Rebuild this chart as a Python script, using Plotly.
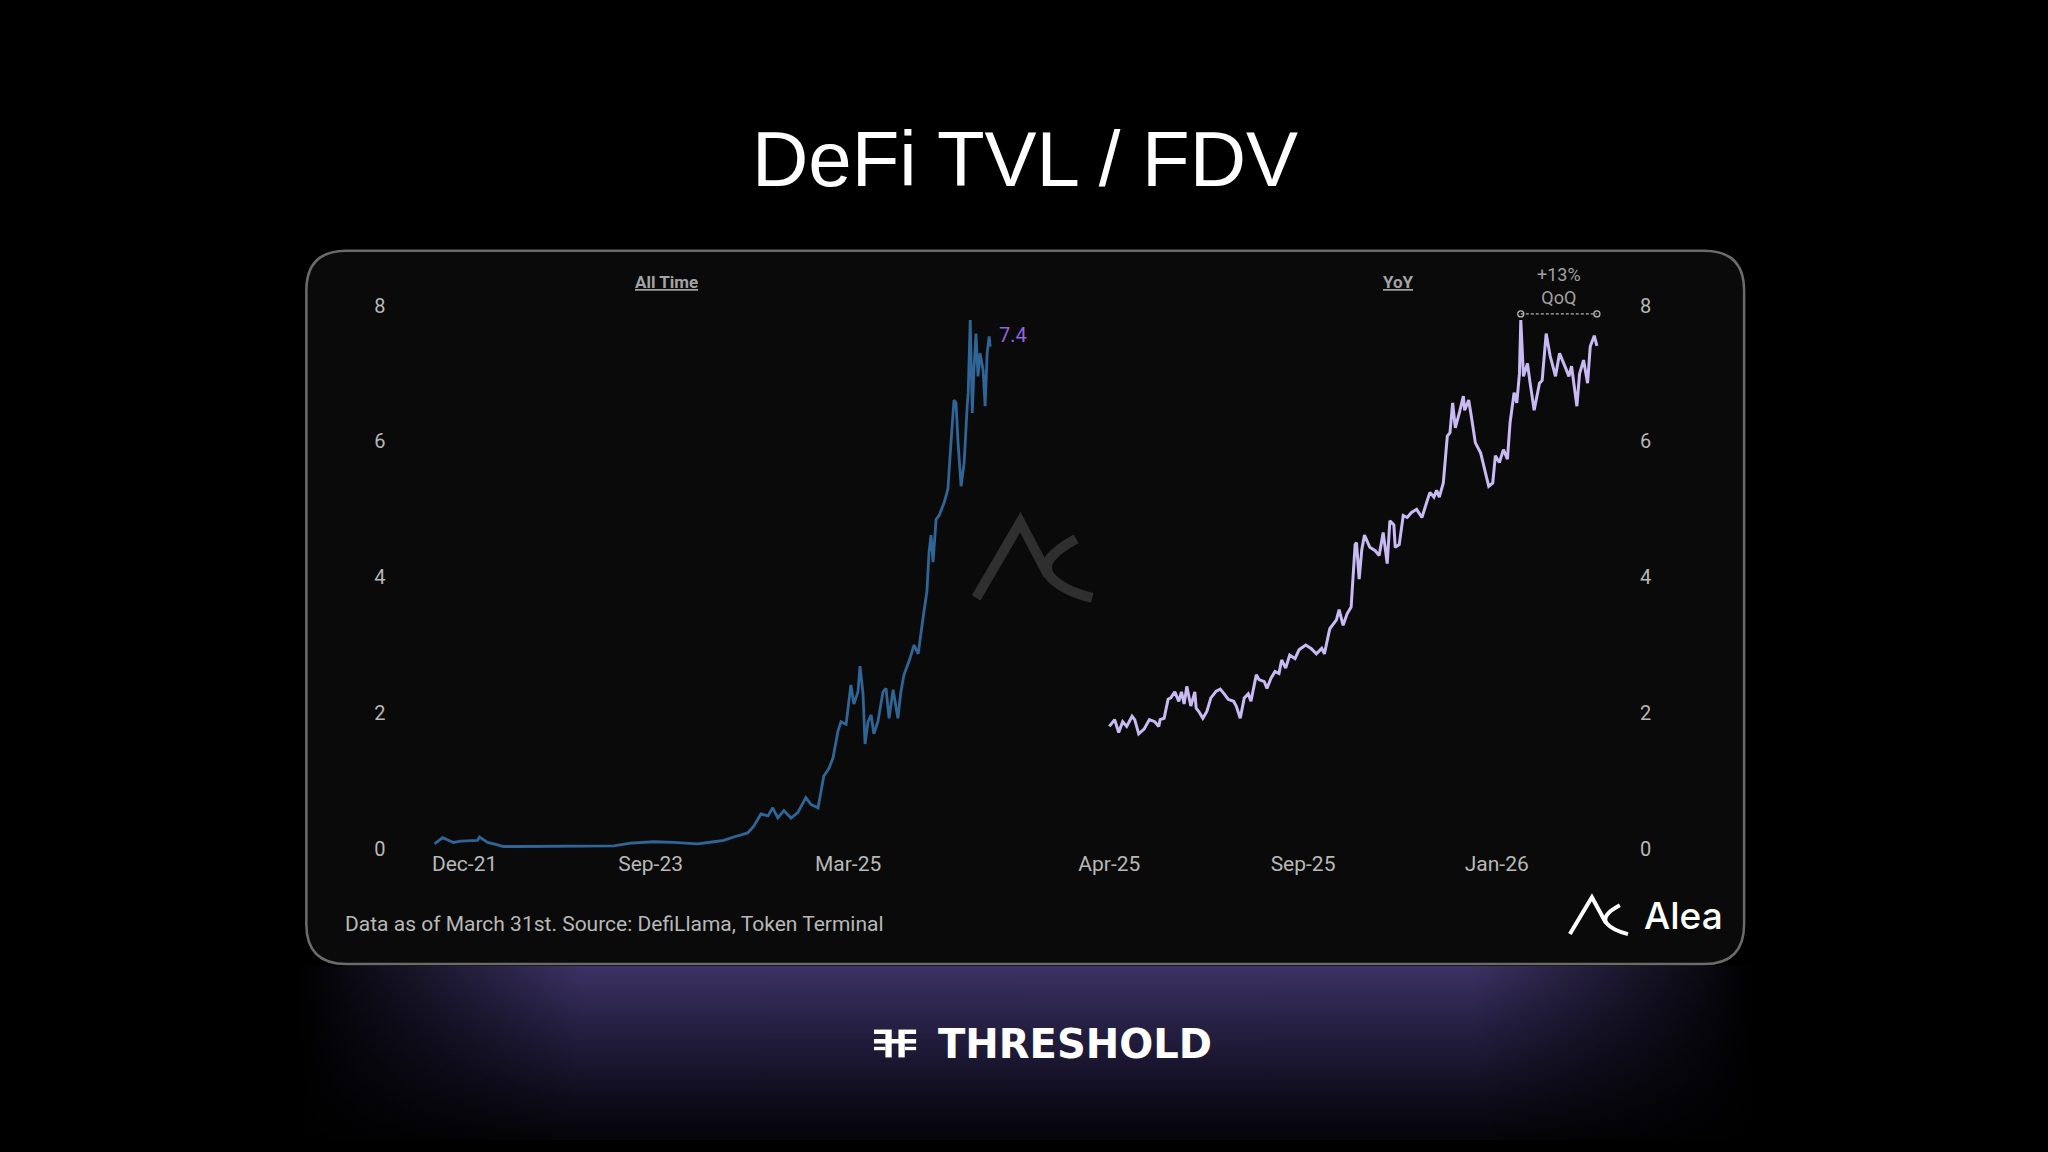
import plotly.graph_objects as go

W, H = 2048, 1152

# ---------------- data ----------------
# All-time series: day index since first observation, TVL/FDV ratio
left_days = [0, 24, 38, 56, 77, 107, 127, 133, 157, 181, 204, 255, 373, 491, 530, 580, 648, 707,
             778, 826, 855, 885, 926, 944, 965, 986, 1000, 1015, 1033, 1054, 1074, 1098, 1113, 1134,
             1143, 1151, 1166, 1178, 1193, 1202, 1217, 1225, 1231, 1240, 1252, 1258, 1267, 1273,
             1282, 1291, 1299, 1311, 1326, 1335, 1344, 1356, 1370, 1379, 1388, 1403, 1418, 1430,
             1439, 1447, 1456, 1462, 1468, 1474, 1483, 1492, 1507, 1518, 1527, 1536, 1542, 1548,
             1557, 1566, 1575, 1578, 1584, 1590, 1595, 1601, 1607, 1613, 1622, 1628, 1634, 1640, 1643]
left_vals = [0.07, 0.16, 0.13, 0.09, 0.11, 0.11, 0.12, 0.17, 0.09, 0.06, 0.03, 0.03, 0.03, 0.03, 0.04,
             0.08, 0.10, 0.09, 0.07, 0.10, 0.12, 0.17, 0.23, 0.33, 0.51, 0.48, 0.60, 0.45, 0.56, 0.45,
             0.53, 0.75, 0.65, 0.60, 0.85, 1.07, 1.18, 1.33, 1.73, 1.87, 1.83, 2.17, 2.41, 2.13, 2.31,
             2.69, 2.28, 1.54, 1.87, 1.97, 1.69, 1.87, 2.31, 2.36, 1.92, 2.34, 1.92, 2.31, 2.56, 2.76,
             3.00, 2.87, 3.24, 3.49, 3.79, 4.36, 4.62, 4.22, 4.85, 4.91, 5.10, 5.30, 5.98, 6.61, 6.57,
             5.98, 5.34, 5.69, 6.52, 6.72, 7.79, 6.42, 7.05, 7.59, 6.96, 7.30, 7.05, 6.52, 7.30, 7.55, 7.40]

# Year-over-year series: day index within the last year
right_days = [0, 4, 7, 10, 13, 17, 19, 22, 26, 30, 34, 37, 38, 41, 44, 46, 49, 52, 54, 56, 58, 61, 64,
              65, 67, 70, 73, 76, 80, 83, 86, 89, 93, 95, 98, 101, 104, 106, 110, 112, 116, 118, 121,
              124, 127, 129, 132, 135, 139, 142, 147, 151, 155, 159, 161, 165, 170, 172, 175, 178, 181,
              184, 185, 187, 189, 191, 195, 199, 202, 205, 208, 210, 213, 214, 217, 220, 223, 226, 230,
              234, 238, 240, 243, 245, 247, 250, 253, 255, 257, 259, 262, 265, 266, 269, 271, 274, 278,
              281, 284, 287, 289, 292, 295, 298, 300, 303, 305, 307, 308, 310, 313, 315, 318, 322, 324,
              327, 330, 334, 337, 341, 344, 346, 349, 350, 352, 355, 358, 360, 363, 365]
right_vals = [1.80, 1.90, 1.71, 1.87, 1.80, 1.95, 1.90, 1.69, 1.76, 1.90, 1.87, 1.80, 1.90, 1.92, 2.20,
              2.22, 2.31, 2.17, 2.31, 2.13, 2.39, 2.10, 2.31, 2.07, 2.02, 1.92, 2.02, 2.22, 2.32, 2.35,
              2.28, 2.20, 2.17, 2.10, 1.92, 2.22, 2.28, 2.17, 2.56, 2.49, 2.46, 2.36, 2.51, 2.61, 2.58,
              2.78, 2.66, 2.85, 2.80, 2.93, 3.00, 2.95, 2.87, 2.95, 2.87, 3.24, 3.37, 3.52, 3.29, 3.46,
              3.56, 4.48, 4.51, 3.97, 4.41, 4.62, 4.44, 4.39, 4.32, 4.66, 4.20, 4.83, 4.77, 4.44, 4.48,
              4.91, 4.88, 4.95, 5.00, 4.88, 5.13, 5.25, 5.18, 5.28, 5.18, 5.39, 6.08, 6.13, 6.57, 6.20,
              6.42, 6.67, 6.46, 6.61, 6.37, 5.98, 5.83, 5.59, 5.34, 5.39, 5.79, 5.69, 5.88, 5.74, 6.28,
              6.72, 6.57, 7.00, 7.79, 6.96, 7.15, 6.86, 6.46, 6.86, 6.90, 7.59, 7.26, 6.96, 7.30, 7.11,
              6.96, 7.11, 6.72, 6.52, 7.00, 7.20, 6.86, 7.40, 7.56, 7.41]

left_tick_days = [89, 639, 1223]
left_tick_labels = ["Dec-21", "Sep-23", "Mar-25"]
right_tick_days = [0, 145, 290]
right_tick_labels = ["Apr-25", "Sep-25", "Jan-26"]
y_ticks = [0, 2, 4, 6, 8]

title_text = "DeFi TVL / FDV"
left_panel_title = "All Time"
right_panel_title = "YoY"
latest_label = "7.4"
qoq_label = "+13%<br>QoQ"
footnote = "Data as of March 31st. Source: DefiLlama, Token Terminal"
brand_text = "Alea"
footer_brand = "THRESHOLD"

# ---------------- layout geometry ----------------
# Target positions below are in reference-image pixels; a small linear
# calibration maps them onto the rendered page.
AX, BX = 0.990, 18.0
AY, BY = 0.987, 4.0

def sx(x):
    return (x - BX) / AX

def sy(y):
    return (y - BY) / AY

def PX(x):
    return sx(x) / W

def PY(y):
    return 1 - sy(y) / H

Y0_PX = 848                # pixel row of value 0
unit = 68.2                # pixels per unit of the ratio
y_lo, y_hi = 0.0, 8.05
y_dom = [PY(Y0_PX - y_lo * unit), PY(Y0_PX - y_hi * unit)]

L0, L1 = 434, 989          # pixel span of the all-time data
ppd_l = (L1 - L0) / (left_days[-1] - left_days[0])
LD0, LD1 = 386, 1000
left_range = [(LD0 - L0) / ppd_l, (LD1 - L0) / ppd_l]

R0, R1 = 1108, 1595        # pixel span of the YoY data
ppd_r = (R1 - R0) / (right_days[-1] - right_days[0])
RD0, RD1 = 1095, 1637
right_range = [(RD0 - R0) / ppd_r + right_days[0], (RD1 - R0) / ppd_r + right_days[0]]

TICK_COLOR = "#b8b8b8"
FONT = "Roboto"

fig = go.Figure()

# --- decoration subplot (x/y) drawn first: background glow ---
fig.add_trace(go.Scatter(
    x=[300, 1750, 1750, 300, 300], y=[966, 966, 1160, 1160, 966],
    mode="none", fill="toself", hoverinfo="skip", showlegend=False,
    fillgradient=dict(type="vertical",
                      colorscale=[[0, "rgb(0,0,0)"], [0.3, "rgb(14,12,26)"],
                                  [0.7, "rgb(38,32,68)"], [1, "rgb(60,50,100)"]]),
    xaxis="x", yaxis="y"))
fig.add_trace(go.Scatter(
    x=[298, 580, 580, 298, 298], y=[966, 966, 1160, 1160, 966],
    mode="none", fill="toself", hoverinfo="skip", showlegend=False,
    fillgradient=dict(type="horizontal",
                      colorscale=[[0, "rgba(0,0,0,1)"], [1, "rgba(0,0,0,0)"]]),
    xaxis="x", yaxis="y"))
fig.add_trace(go.Scatter(
    x=[1470, 1752, 1752, 1470, 1470], y=[966, 966, 1160, 1160, 966],
    mode="none", fill="toself", hoverinfo="skip", showlegend=False,
    fillgradient=dict(type="horizontal",
                      colorscale=[[0, "rgba(0,0,0,0)"], [1, "rgba(0,0,0,1)"]]),
    xaxis="x", yaxis="y"))

# --- data traces ---
fig.add_trace(go.Scatter(
    x=left_days, y=left_vals, mode="lines",
    line=dict(color="#2f6597", width=2.8), showlegend=False,
    xaxis="x2", yaxis="y2"))
fig.add_trace(go.Scatter(
    x=right_days, y=right_vals, mode="lines",
    line=dict(color="#c8baf2", width=3), showlegend=False,
    xaxis="x3", yaxis="y3"))

# QoQ bracket from the peak to the latest point
peak_i = right_vals.index(max(right_vals))
bracket_y = max(right_vals) + 0.09
fig.add_trace(go.Scatter(
    x=[right_days[peak_i], right_days[-1]], y=[bracket_y, bracket_y],
    mode="lines+markers",
    line=dict(color="#b5b5b5", width=1.3, dash="3px,2px"),
    marker=dict(symbol="circle-open", size=6, color="#b5b5b5", line=dict(width=1.3)),
    showlegend=False, xaxis="x3", yaxis="y3", cliponaxis=False))

shapes = []

def rounded_rect(x0, y0, x1, y1, r):
    return (f"M {x0+r},{y0} L {x1-r},{y0} Q {x1},{y0} {x1},{y0+r} "
            f"L {x1},{y1-r} Q {x1},{y1} {x1-r},{y1} L {x0+r},{y1} "
            f"Q {x0},{y1} {x0},{y1-r} L {x0},{y0+r} Q {x0},{y0} {x0+r},{y0} Z")

# card
shapes.append(dict(type="path", xref="x", yref="y", layer="below",
                   path=rounded_rect(306, 247, 1742, 964, 40),
                   fillcolor="#0a0a0a", line=dict(color="#6b6b6b", width=2.5)))


def alea_glyph(x0, y0, w, h, color, width, layer):
    def p(u, v):
        return f"{x0 + u*w:.1f},{y0 + v*h:.1f}"
    path1 = f"M {p(0,1)} L {p(0.38,0)} L {p(0.62,0.7)}"
    path2 = f"M {p(0.86,0.22)} Q {p(0.52,0.5)} {p(0.64,0.72)} Q {p(0.74,0.9)} {p(1,1)}"
    out = []
    for pth in (path1, path2):
        out.append(dict(type="path", xref="x", yref="y", layer=layer, path=pth,
                        line=dict(color=color, width=width)))
    return out

# watermark in the middle of the card
shapes += alea_glyph(975, 520, 116, 76, "#2f2f2f", 10, "below")
# brand glyph bottom right
shapes += alea_glyph(1568, 897, 58, 37, "#ffffff", 4, "above")

# THRESHOLD icon
ix0, iy0, iw, ih = 873, 1030, 42, 28
def irect(u0, v0, u1, v1):
    return dict(type="rect", xref="x", yref="y", layer="above",
                x0=ix0 + u0*iw, x1=ix0 + u1*iw, y0=iy0 + v0*ih, y1=iy0 + v1*ih,
                fillcolor="#ffffff", line=dict(width=0))
shapes += [irect(0.0, 0.0, 0.28, 0.16), irect(0.72, 0.0, 1.0, 0.16),
           irect(0.0, 0.34, 1.0, 0.5), irect(0.27, 0.0, 0.42, 1.0), irect(0.58, 0.0, 0.73, 1.0),
           irect(0.0, 0.62, 0.27, 0.74), irect(0.73, 0.62, 1.0, 0.74)]

annotations = [
    dict(text=title_text, x=1024, y=155, xref="x", yref="y", showarrow=False,
         font=dict(family="Liberation Sans", size=78, color="#ffffff"),
         xanchor="center", yanchor="middle"),
    dict(text=f"<b><u>{left_panel_title}</u></b>", x=666, y=278, xref="x", yref="y",
         showarrow=False, font=dict(family=FONT, size=17, color="#a3a3a3"),
         xanchor="center", yanchor="middle"),
    dict(text=f"<b><u>{right_panel_title}</u></b>", x=1397, y=278, xref="x", yref="y",
         showarrow=False, font=dict(family=FONT, size=17, color="#a3a3a3"),
         xanchor="center", yanchor="middle"),
    dict(text=footnote, x=343, y=924, xref="x", yref="y", showarrow=False,
         font=dict(family=FONT, size=21, color="#b8b8b8"), xanchor="left", yanchor="middle"),
    dict(text=brand_text, x=1640, y=915, xref="x", yref="y", showarrow=False,
         font=dict(family="Inter", size=37, color="#ffffff", weight=500),
         xanchor="left", yanchor="middle"),
    dict(text=f"<b>{footer_brand}</b>", x=1074, y=1045, xref="x", yref="y", showarrow=False,
         font=dict(family="DejaVu Sans", size=40, color="#ffffff"),
         xanchor="center", yanchor="middle"),
    dict(text=latest_label, x=left_days[-1], y=left_vals[-1], xref="x2", yref="y2",
         showarrow=False, font=dict(family=FONT, size=20, color="#9463de"),
         xanchor="left", yanchor="middle", xshift=7, yshift=12),
    dict(text=qoq_label, x=(right_days[peak_i] + right_days[-1]) / 2, y=bracket_y,
         xref="x3", yref="y3", showarrow=False,
         font=dict(family=FONT, size=18, color="#a0a0a0"),
         xanchor="center", yanchor="bottom", yshift=4),
]

axis_common = dict(showgrid=False, zeroline=False, showline=False, ticks="", fixedrange=True)
xfont = dict(family=FONT, size=21, color=TICK_COLOR)
yfont = dict(family=FONT, size=20, color=TICK_COLOR)

fig.update_layout(
    width=W, height=H,
    margin=dict(l=0, r=0, t=0, b=0),
    paper_bgcolor="#000000", plot_bgcolor="rgba(0,0,0,0)",
    showlegend=False,
    xaxis=dict(domain=[0, 1], range=[BX, AX * W + BX], visible=False, fixedrange=True),
    yaxis=dict(domain=[0, 1], range=[AY * H + BY, BY], visible=False, fixedrange=True, anchor="x"),
    xaxis2=dict(domain=[PX(LD0), PX(LD1)], range=left_range, anchor="y2",
                tickmode="array", tickvals=left_tick_days, ticktext=left_tick_labels,
                tickfont=xfont, **axis_common),
    yaxis2=dict(domain=y_dom, range=[y_lo, y_hi], anchor="x2", side="left",
                tickmode="array", tickvals=y_ticks, tickfont=yfont, **axis_common),
    xaxis3=dict(domain=[PX(RD0), PX(RD1)], range=right_range, anchor="y3",
                tickmode="array", tickvals=right_tick_days, ticktext=right_tick_labels,
                tickfont=xfont, **axis_common),
    yaxis3=dict(domain=y_dom, range=[y_lo, y_hi], anchor="x3", side="right",
                tickmode="array", tickvals=y_ticks, tickfont=yfont, **axis_common),
    shapes=shapes,
    annotations=annotations,
)

fig.write_html("out.html",
               post_script="document.body.style.margin='0px';document.body.style.overflow='hidden';")
